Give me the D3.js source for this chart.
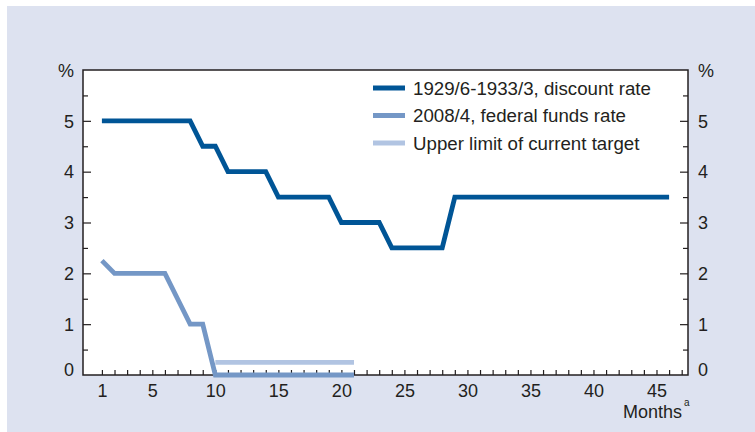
<!DOCTYPE html>
<html lang="en">
<head>
  <meta charset="UTF-8">
  <title>Discount rate vs federal funds rate</title>
  <script src="https://d3js.org/d3.v7.min.js"></script>
  <style>
    body { margin: 0; background: #fff; }
    text { font-family: "Liberation Sans", Arial, sans-serif; fill: #231f20; }
  </style>
</head>
<body>
  <div id="chart"></div>

  <script>
    // Months since start of each episode
    const months1929 = d3.range(1, 47);
    const discountRate = [
      5, 5, 5, 5, 5, 5, 5, 5,        // 1-8
      4.5, 4.5,                      // 9-10
      4, 4, 4, 4,                    // 11-14
      3.5, 3.5, 3.5, 3.5, 3.5,       // 15-19
      3, 3, 3, 3,                    // 20-23
      2.5, 2.5, 2.5, 2.5, 2.5,       // 24-28
      3.5, 3.5, 3.5, 3.5, 3.5, 3.5, 3.5, 3.5, 3.5, 3.5,
      3.5, 3.5, 3.5, 3.5, 3.5, 3.5, 3.5, 3.5   // 29-46
    ];
    const months2008 = d3.range(1, 22);
    const fedFunds = [2.25, 2, 2, 2, 2, 2, 1.5, 1, 1, 0, 0, 0, 0, 0, 0, 0, 0, 0, 0, 0, 0];
    const monthsTarget = d3.range(10, 22);
    const upperTarget = monthsTarget.map(() => 0.25);

    const seriesNames = ["1929/6-1933/3, discount rate", "2008/4, federal funds rate", "Upper limit of current target"];
    const seriesColors = ["#005596", "#7497c6", "#b1c4e2"];
    const xTickLabels = [1, 5, 10, 15, 20, 25, 30, 35, 40, 45];

    const width = 755, height = 432;
    const margin = { left: 83, right: 67, top: 70, bottom: 57 };

    const svg = d3.select("#chart").append("svg")
      .attr("width", width)
      .attr("height", height);

    // panel background
    svg.append("rect")
      .attr("x", 7).attr("y", 6)
      .attr("width", width - 7).attr("height", height - 6)
      .attr("fill", "#dde2f0");

    const x = d3.scaleLinear().domain([-0.5, 47.5]).range([margin.left, width - margin.right]);
    const y = d3.scaleLinear().domain([0, 6]).range([height - margin.bottom, margin.top]);

    // plot area
    svg.append("rect")
      .attr("x", x(-0.5)).attr("y", y(6))
      .attr("width", x(47.5) - x(-0.5)).attr("height", y(0) - y(6))
      .attr("fill", "#fff")
      .attr("stroke", "#231f20")
      .attr("stroke-width", 1.5);

    // x axis ticks (inside)
    const xAxis = d3.axisBottom(x)
      .tickValues(d3.range(1, 48))
      .tickSize(-5)
      .tickPadding(8)
      .tickFormat(d => xTickLabels.includes(d) ? d : "");
    const gx = svg.append("g")
      .attr("transform", `translate(0,${y(0)})`)
      .call(xAxis);
    gx.select(".domain").remove();
    gx.selectAll("line").attr("stroke", "#231f20").attr("stroke-width", 1.2);
    gx.selectAll("text").style("font-size", "18px").attr("dy", "0.8em");

    // y axes, left and right, ticks pointing inward
    const yTicks = d3.range(0, 6.01, 0.5);
    const yFmt = d => d === 6 ? "%" : (Number.isInteger(d) ? d : "");

    function styleY(g) {
      g.select(".domain").remove();
      g.selectAll("line")
        .attr("stroke", "#231f20")
        .attr("stroke-width", 1.2)
        .attr("x2", function (d) {
          const sign = +d3.select(this).attr("x2") < 0 ? -1 : 1;
          return Number.isInteger(d) ? sign * 8 : sign * 5;
        });
      g.selectAll("line").filter(d => d === 0 || d === 6).remove();
      g.selectAll("text")
        .style("font-size", "18px")
        .attr("dy", d => d === 0 ? "0" : "0.35em");
    }

    svg.append("g")
      .attr("transform", `translate(${x(-0.5)},0)`)
      .call(d3.axisLeft(y).tickValues(yTicks).tickSize(-8).tickPadding(9).tickFormat(yFmt))
      .call(styleY);

    svg.append("g")
      .attr("transform", `translate(${x(47.5)},0)`)
      .call(d3.axisRight(y).tickValues(yTicks).tickSize(-8).tickPadding(10).tickFormat(yFmt))
      .call(styleY);

    // x axis title
    svg.append("text")
      .attr("x", 682)
      .attr("y", 418)
      .attr("text-anchor", "end")
      .style("font-size", "18px")
      .text("Months");
    svg.append("text")
      .attr("x", 684)
      .attr("y", 406)
      .style("font-size", "10px")
      .text("a");

    // lines
    const line = d3.line().x(d => x(d[0])).y(d => y(d[1]));
    const seriesData = [
      d3.zip(monthsTarget, upperTarget),
      d3.zip(months2008, fedFunds),
      d3.zip(months1929, discountRate)
    ];
    const drawOrder = [2, 1, 0];
    seriesData.forEach((s, i) => {
      svg.append("path")
        .datum(s)
        .attr("fill", "none")
        .attr("stroke", seriesColors[drawOrder[i]])
        .attr("stroke-width", 4.8)
        .attr("stroke-linejoin", "miter")
        .attr("d", line);
    });

    // legend
    const legend = svg.append("g").attr("transform", "translate(373,88)");
    seriesNames.forEach((name, i) => {
      const row = legend.append("g").attr("transform", `translate(0,${i * 27.5})`);
      row.append("line")
        .attr("x1", 0).attr("x2", 32)
        .attr("stroke", seriesColors[i])
        .attr("stroke-width", 5);
      row.append("text")
        .attr("x", 40)
        .attr("dy", "0.35em")
        .style("font-size", "18.7px")
        .text(name);
    });
  </script>
</body>
</html>
